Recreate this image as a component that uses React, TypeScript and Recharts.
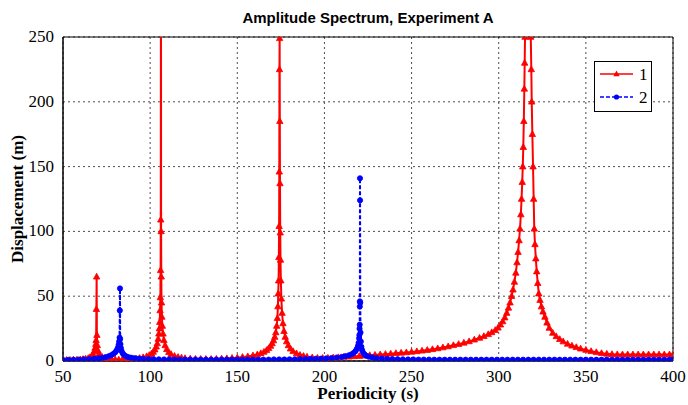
import React from 'react';
import { LineChart, Line, XAxis, YAxis, CartesianGrid, ReferenceArea } from 'recharts';

// [period (s), displacement (m)]
const series1: [number, number][] = [
  [50, 0.7], [52, 0.75], [54, 0.8], [56, 0.9], [58, 1.0], [60, 1.2], [61.5, 1.4], [63, 1.7],
  [64.5, 2.2], [65.5, 2.8], [66.5, 3.8], [67.3, 5.2], [67.9, 7.5], [68.4, 10], [68.8, 13],
  [69.0, 16], [69.15, 40], [69.3, 65], [69.45, 20], [69.7, 12], [70.1, 8], [70.7, 5.5],
  [71.5, 4], [72.5, 3], [74, 2.2], [76, 1.6], [78, 1.3], [80, 1.1], [82, 1.0], [84, 1.0],
  [86, 1.1], [88, 1.3], [90, 1.5], [92, 1.8], [94, 2.2], [96, 2.8], [98, 3.6], [99.5, 4.5],
  [100.8, 5.7], [101.8, 7], [102.7, 8.8], [103.5, 11], [104.1, 13.5], [104.6, 17], [105, 21],
  [105.3, 25], [105.5, 30], [105.7, 39], [105.85, 49], [106.0, 70], [106.1, 109], [106.2, 320],
  [106.3, 100], [106.4, 65], [106.55, 45], [106.75, 34], [107, 27], [107.4, 21], [107.9, 16],
  [108.6, 12], [109.5, 9], [110.7, 6.8], [112, 5.2], [114, 3.8], [116, 3], [118, 2.5],
  [120, 2.1], [123, 1.8], [126, 1.6], [129, 1.5], [132, 1.5], [135, 1.5], [138, 1.6],
  [141, 1.8], [144, 2.0], [147, 2.3], [150, 2.6], [153, 3.0], [156, 3.5], [159, 4.2],
  [161.5, 5], [163.5, 5.9], [165.3, 7], [166.8, 8.3], [168, 9.8], [169.1, 11.6], [170, 13.5],
  [170.8, 15.8], [171.5, 18.5], [172.1, 22], [172.6, 27], [173, 33], [173.3, 42], [173.5, 52],
  [173.7, 62], [173.85, 80], [174.0, 104], [174.1, 146], [174.2, 225], [174.3, 249],
  [174.4, 185], [174.5, 137], [174.65, 99], [174.8, 78], [175, 62], [175.3, 48], [175.7, 37],
  [176.2, 29], [176.8, 23], [177.5, 18.5], [178.3, 15], [179.3, 12], [180.5, 9.5], [182, 7.5],
  [184, 5.8], [186, 4.6], [188, 3.8], [190, 3.2], [193, 2.7], [196, 2.4], [199, 2.3],
  [202, 2.4], [205, 2.6], [208, 2.8], [211, 3.1], [214, 3.3], [217, 3.6], [220, 3.8],
  [223, 4.1], [226, 4.4], [229, 4.7], [232, 5.0], [235, 5.3], [238, 5.6], [241, 6.0],
  [244, 6.3], [247, 6.6], [250, 7.0], [253, 7.4], [256, 7.9], [259, 8.4], [262, 9.0],
  [265, 9.7], [268, 10.4], [271, 11.2], [274, 12.1], [277, 13.0], [280, 14.0], [283, 15.1],
  [286, 16.4], [289, 17.8], [291.5, 19.1], [294, 20.6], [296, 22.1], [298, 23.8], [299.6, 25.6],
  [301, 28], [302.3, 30.5], [303.5, 33.5], [304.6, 37], [305.6, 41], [306.5, 45], [307.4, 50],
  [308.2, 55], [309, 61], [309.8, 68], [310.5, 76], [311.1, 84], [311.7, 93], [312.2, 102],
  [312.7, 113], [313.1, 125], [313.5, 138], [313.8, 150], [314.1, 165], [314.4, 185],
  [314.7, 210], [314.9, 230], [315.1, 250], [315.5, 290], [316.7, 340], [318, 290],
  [318.4, 250], [318.7, 225], [318.95, 200], [319.3, 175], [319.7, 150], [320.05, 125],
  [320.4, 102], [320.8, 90], [321.3, 79], [321.8, 69], [322.4, 60], [323, 52], [323.7, 47],
  [324.5, 42], [325.4, 38], [326.5, 34], [327.7, 29.5], [329, 25.5], [331, 21.6], [333, 19],
  [335, 16.8], [337, 15], [339.5, 13.2], [342, 11.8], [344.5, 10.6], [347, 9.5], [350, 8.5],
  [353, 7.5], [356, 6.7], [359, 6], [362, 5.5], [365, 5.2], [368, 5.1], [371, 5], [374, 5],
  [377, 5], [380, 5], [383, 5], [386, 5], [389, 5], [392, 5], [395, 5], [398, 5], [400, 5],
];

const series2: [number, number][] = [
  [50, 0.8], [53, 0.9], [56, 1.0], [59, 1.1], [62, 1.3], [65, 1.5], [68, 1.8], [70.5, 2.1],
  [72.5, 2.5], [74.5, 3], [76.3, 3.7], [77.8, 4.6], [79, 5.6], [80, 6.8], [80.8, 8.2],
  [81.4, 10], [81.9, 12.5], [82.2, 15], [82.45, 18], [82.6, 39], [82.7, 56], [82.8, 17],
  [82.95, 13], [83.2, 10], [83.6, 7.8], [84.2, 6], [85, 4.7], [86, 3.8], [87.3, 3.1],
  [89, 2.6], [91, 2.2], [93.5, 1.9], [96, 1.7], [99, 1.5], [102, 1.4], [105, 1.3], [108, 1.2],
  [111, 1.2], [114, 1.1], [117, 1.1], [120, 1.1], [123, 1.1], [126, 1.1], [129, 1.1],
  [132, 1.1], [135, 1.1], [138, 1.1], [141, 1.1], [144, 1.1], [147, 1.1], [150, 1.1],
  [153, 1.1], [156, 1.1], [159, 1.1], [162, 1.1], [165, 1.1], [168, 1.1], [171, 1.2],
  [174, 1.2], [177, 1.2], [180, 1.3], [183, 1.3], [186, 1.4], [189, 1.5], [192, 1.6],
  [195, 1.7], [198, 1.8], [201, 2.0], [204, 2.3], [207, 2.7], [210, 3.2], [212, 3.7],
  [214, 4.4], [215.5, 5.2], [216.8, 6.3], [217.8, 7.6], [218.6, 9.3], [219.2, 11.5],
  [219.6, 14], [219.9, 17.5], [220.05, 20], [220.15, 25], [220.25, 28], [220.3, 42],
  [220.35, 46], [220.4, 141], [220.45, 124], [220.55, 45], [220.7, 22], [220.9, 15],
  [221.2, 11], [221.6, 8.5], [222.2, 6.5], [223, 5.1], [224, 4.1], [225.5, 3.3], [227.5, 2.7],
  [230, 2.2], [233, 1.9], [236, 1.7], [239, 1.5], [242, 1.4], [245, 1.3], [248, 1.2],
  [251, 1.2], [254, 1.1], [257, 1.1], [260, 1.1], [263, 1.0], [266, 1.0], [269, 1.0],
  [272, 1.0], [275, 1.0], [278, 1.0], [281, 1.0], [284, 1.0], [287, 1.0], [290, 1.0],
  [293, 1.0], [296, 1.0], [299, 1.0], [302, 1.0], [305, 1.0], [308, 1.0], [311, 1.0],
  [314, 1.0], [317, 1.0], [320, 1.0], [323, 1.0], [326, 1.0], [329, 1.0], [332, 1.0],
  [335, 1.0], [338, 1.0], [341, 1.0], [344, 1.0], [347, 1.0], [350, 1.0], [353, 1.0],
  [356, 1.0], [359, 1.0], [362, 1.0], [365, 1.0], [368, 1.0], [371, 1.0], [374, 1.0],
  [377, 1.0], [380, 1.0], [383, 1.0], [386, 1.0], [389, 1.0], [392, 1.0], [395, 1.0],
  [398, 1.0], [400, 1.0],
];

const xTicks = [50, 100, 150, 200, 250, 300, 350, 400];
const yTicks = [0, 50, 100, 150, 200, 250];
const seriesNames = ['1', '2'];

const RED = '#ff0000';
const BLUE = '#0000ff';
const serif = '"Liberation Serif", "Times New Roman", serif';

const toRows = (pts: [number, number][]) => pts.map(([x, y]) => ({ x, y }));

function Triangle(props: any) {
  const { cx, cy, index } = props;
  if (cx == null || cy == null) return <g key={`t${index}`} />;
  return (
    <path
      key={`t${index}`}
      d={`M${cx},${cy - 3.5}L${cx + 3.2},${cy + 2.3}L${cx - 3.2},${cy + 2.3}Z`}
      fill={RED}
      stroke={RED}
      strokeWidth={0.8}
    />
  );
}

function Dot(props: any) {
  const { cx, cy, index } = props;
  if (cx == null || cy == null) return <g key={`d${index}`} />;
  return <circle key={`d${index}`} cx={cx} cy={cy} r={2.6} fill={BLUE} stroke={BLUE} strokeWidth={0.8} />;
}

function XTick(props: any) {
  const { x, y, payload } = props;
  return (
    <text x={x} y={y + 13} textAnchor="middle" fontFamily={serif} fontSize={17} fill="#000">
      {payload.value}
    </text>
  );
}

function YTick(props: any) {
  const { x, y, payload } = props;
  return (
    <text x={x} y={y + 5} textAnchor="end" fontFamily={serif} fontSize={17} fill="#000">
      {payload.value}
    </text>
  );
}

export default function App() {
  return (
    <div style={{ position: 'absolute', left: 0, top: 0, width: 688, height: 405, background: '#fff' }}>
      <div
        style={{
          position: 'absolute',
          left: 63,
          width: 610,
          top: 9,
          textAlign: 'center',
          fontFamily: '"Liberation Sans", Arial, sans-serif',
          fontWeight: 'bold',
          fontSize: 15,
          lineHeight: '18px',
        }}
      >
        Amplitude Spectrum, Experiment A
      </div>
      <LineChart width={688} height={405} margin={{ top: 37, right: 15, bottom: 0, left: 0 }}>
        <CartesianGrid stroke="#222" strokeDasharray="2 3" strokeWidth={0.8} />
        <XAxis
          type="number"
          dataKey="x"
          domain={[50, 400]}
          ticks={xTicks}
          allowDataOverflow
          height={44}
          tickLine={false}
          axisLine={{ stroke: '#000' }}
          tick={<XTick />}
        />
        <YAxis
          type="number"
          domain={[0, 250]}
          ticks={yTicks}
          allowDataOverflow
          width={63}
          tickLine={false}
          axisLine={{ stroke: '#000' }}
          tick={<YTick />}
          tickMargin={3}
        />
        <ReferenceArea x1={50} x2={400} y1={0} y2={250} fill="none" stroke="#000" strokeWidth={1} />
        <Line
          data={toRows(series1)}
          dataKey="y"
          name={seriesNames[0]}
          type="linear"
          stroke={RED}
          strokeWidth={2}
          dot={Triangle}
          isAnimationActive={false}
        />
        <Line
          data={toRows(series2)}
          dataKey="y"
          name={seriesNames[1]}
          type="linear"
          stroke={BLUE}
          strokeWidth={2}
          strokeDasharray="4 2"
          dot={Dot}
          isAnimationActive={false}
        />
      </LineChart>
      <div
        style={{
          position: 'absolute',
          left: 63,
          width: 610,
          top: 384,
          textAlign: 'center',
          fontFamily: serif,
          fontWeight: 'bold',
          fontSize: 17,
          lineHeight: '20px',
        }}
      >
        Periodicity (s)
      </div>
      <div
        style={{
          position: 'absolute',
          left: 18,
          top: 199,
          transform: 'translate(-50%, -50%) rotate(-90deg)',
          whiteSpace: 'nowrap',
          fontFamily: serif,
          fontWeight: 'bold',
          fontSize: 17,
        }}
      >
        Displacement (m)
      </div>
      <svg
        width={58}
        height={51}
        style={{ position: 'absolute', left: 594, top: 61 }}
      >
        <rect x={0.5} y={0.5} width={57} height={50} fill="#fff" stroke="#000" />
        <line x1={6} x2={39} y1={13} y2={13} stroke={RED} strokeWidth={1.5} />
        <path d="M22.5,9.5L25.7,15.3L19.3,15.3Z" fill={RED} />
        <text x={45} y={19} fontFamily={serif} fontSize={17}>{seriesNames[0]}</text>
        <line x1={6} x2={39} y1={36} y2={36} stroke={BLUE} strokeWidth={1.5} strokeDasharray="4 2" />
        <circle cx={22.5} cy={36} r={2.6} fill={BLUE} />
        <text x={45} y={42} fontFamily={serif} fontSize={17}>{seriesNames[1]}</text>
      </svg>
    </div>
  );
}
